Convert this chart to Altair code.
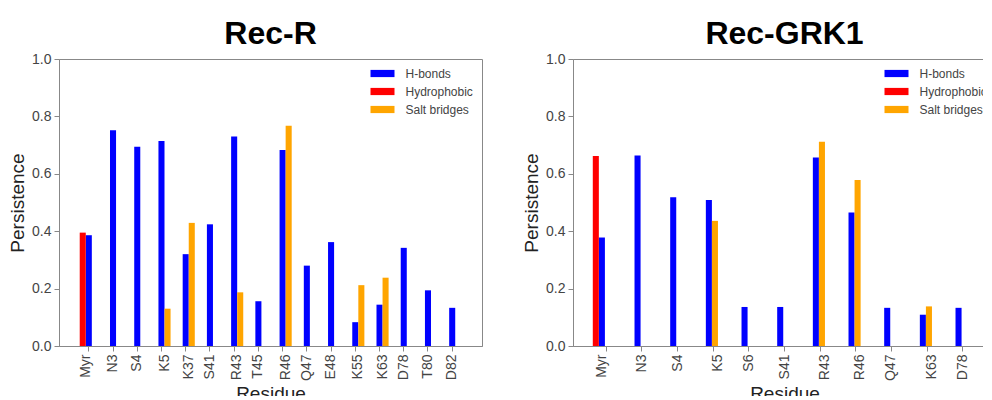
import altair as alt
import pandas as pd

# ---------------- data ----------------
TYPES = ["H-bonds", "Hydrophobic", "Salt bridges"]
SLOT_ORDER = ["Hydrophobic", "H-bonds", "Salt bridges"]
COLORS = ["#0000ff", "#ff0000", "#ffa500"]

rec_r_residues = ["Myr", "N3", "S4", "K5", "K37", "S41", "R43", "T45", "R46",
                  "Q47", "E48", "K55", "K63", "D78", "T80", "D82"]
rec_r_hbonds = [0.386, 0.752, 0.694, 0.714, 0.320, 0.424, 0.730, 0.156, 0.683,
                0.280, 0.362, 0.083, 0.144, 0.342, 0.194, 0.133]
rec_r_hydrophobic = [0.395, None, None, None, None, None, None, None, None,
                     None, None, None, None, None, None, None]
rec_r_salt = [None, None, None, 0.130, 0.429, None, 0.187, None, 0.767,
              None, None, 0.212, 0.238, None, None, None]

grk_residues = ["Myr", "N3", "S4", "K5", "S6", "S41", "R43", "R46", "Q47", "K63", "D78"]
grk_hbonds = [0.378, 0.664, 0.518, 0.509, 0.136, 0.136, 0.657, 0.465, 0.133, 0.109, 0.133]
grk_hydrophobic = [0.662, None, None, None, None, None, None, None, None, None, None]
grk_salt = [None, None, None, 0.436, None, None, 0.712, 0.578, None, 0.138, None]

y_ticks = [0.0, 0.2, 0.4, 0.6, 0.8, 1.0]

# ---------------- layout ----------------
PLOT_W = 423
PLOT_H = 287
PAD_INNER = 0.25

FONT = "Liberation Sans"
GRAY = "#888888"


def panel(title, residues, hb, hy, sb, pad_outer):
    rows = []
    for i, r in enumerate(residues):
        for t, vals in zip(TYPES, (hb, hy, sb)):
            if vals[i] is not None:
                rows.append({"Residue": r, "Type": t, "Persistence": vals[i]})
    df = pd.DataFrame(rows)

    n = len(residues)
    step = PLOT_W / (n - PAD_INNER + 2 * pad_outer)
    slot = step * (1 - PAD_INNER) / 3
    parts = []
    for i, r in enumerate(residues):
        off = 0.0
        if hy[i] is not None:
            off -= slot / 2
        if sb[i] is not None:
            off += slot / 2
        if off:
            parts.append(f"datum.value === '{r}' ? {off:.2f} : ")
    expr = "".join(parts) + "0"

    return (
        alt.Chart(df, title=alt.Title(title))
        .mark_bar()
        .encode(
            x=alt.X(
                "Residue:N",
                sort=residues,
                scale=alt.Scale(paddingInner=PAD_INNER, paddingOuter=pad_outer),
                axis=alt.Axis(
                    title="Residue",
                    labelAngle=270,
                    labelAlign="right",
                    labelBaseline="middle",
                    labelOffset={"expr": expr},
                    labelPadding=3,
                    titlePadding=4,
                ),
            ),
            xOffset=alt.XOffset("Type:N", scale=alt.Scale(domain=SLOT_ORDER, paddingInner=0, paddingOuter=0)),
            y=alt.Y(
                "Persistence:Q",
                scale=alt.Scale(domain=[0, 1], nice=False),
                axis=alt.Axis(values=y_ticks, format=".1f", title="Persistence",
                              labelPadding=3, titlePadding=4),
            ),
            color=alt.Color(
                "Type:N",
                scale=alt.Scale(domain=TYPES, range=COLORS),
                legend=alt.Legend(
                    title=None,
                    orient="none",
                    legendX=311.5,
                    legendY=2.5,
                    symbolType="M-1,-0.3H1V0.3H-1Z",
                    symbolSize=576,
                    symbolStrokeWidth=0,
                    labelFontSize=12,
                    labelColor="#444444",
                    labelFont=FONT,
                    labelOffset=11,
                    rowPadding=-3,
                    padding=0,
                ),
            ),
        )
        .properties(width=PLOT_W, height=PLOT_H)
    )


left = panel("Rec-R", rec_r_residues, rec_r_hbonds, rec_r_hydrophobic, rec_r_salt, 0.855)
right = panel("Rec-GRK1", grk_residues, grk_hbonds, grk_hydrophobic, grk_salt, 0.555)

chart = (
    alt.hconcat(left, right, spacing=39)
    .resolve_legend(color="independent")
    # the original figure is cropped on the right and at the bottom
    .properties(padding={"left": 0, "top": 9, "right": -14, "bottom": -8})
    .configure_view(stroke=GRAY, strokeWidth=1)
    .configure_axis(
        grid=False,
        domainColor=GRAY,
        tickColor=GRAY,
        tickSize=5,
        labelColor="#444444",
        labelFont=FONT,
        labelFontSize=14,
        titleColor="#222222",
        titleFont=FONT,
        titleFontSize=19,
        titleFontWeight="normal",
    )
    .configure_title(font=FONT, fontSize=32, fontWeight="bold", color="#000000",
                     anchor="middle", offset=1)
)

chart.save("out.html", embed_options={"renderer": "svg", "actions": False})
